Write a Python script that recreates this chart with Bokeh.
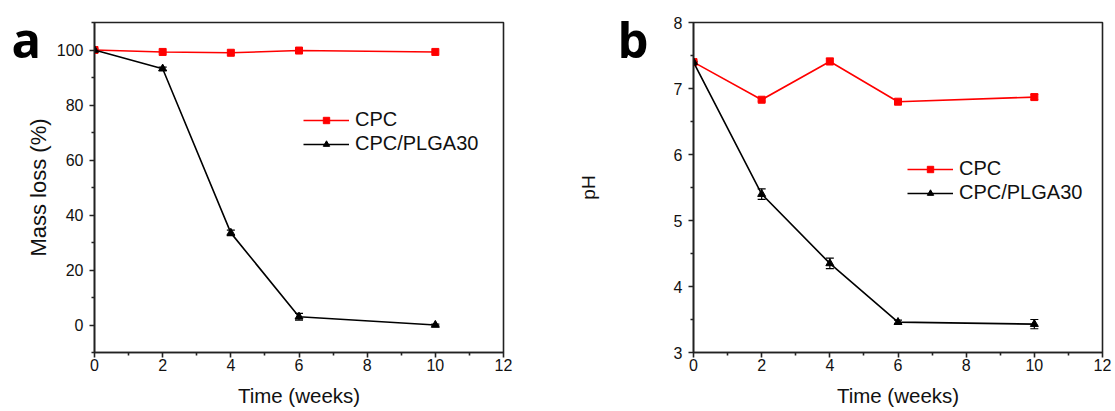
from bokeh.plotting import figure
from bokeh.layouts import row
from bokeh.models import (ColumnDataSource, FixedTicker, Legend, LegendItem,
                          Whisker, TeeHead)
from bokeh.embed import file_html
from bokeh.resources import INLINE

# ---------------- data ----------------
weeks = [0, 2, 4, 6, 10]

# panel a: mass loss (%)
mass_cpc = [100.0, 99.3, 99.0, 99.8, 99.3]
mass_cpc_err = [0.3, 0.3, 0.3, 0.3, 0.3]
mass_plga = [100.0, 93.2, 33.5, 3.0, 0.0]
mass_plga_err = [0.3, 0.6, 1.0, 1.2, 0.3]

# panel b: pH
ph_cpc = [7.40, 6.83, 7.41, 6.80, 6.87]
ph_cpc_err = [0.01, 0.02, 0.05, 0.02, 0.04]
ph_plga = [7.40, 5.40, 4.35, 3.46, 3.43]
ph_plga_err = [0.01, 0.08, 0.08, 0.03, 0.07]

x_ticks = [0, 2, 4, 6, 8, 10, 12]
x_minor = [1, 3, 5, 7, 9, 11]
a_ticks = [0, 20, 40, 60, 80, 100]
a_minor = [-10, 10, 30, 50, 70, 90, 110]
b_ticks = [3, 4, 5, 6, 7, 8]
b_minor = [3.5, 4.5, 5.5, 6.5, 7.5]

FONT = "Liberation Sans"
RED = "#ff0000"
BLACK = "#000000"


def style(p, yticks, yminor, ylabel, ylabel_size, ylabel_standoff):
    p.outline_line_color = "#222222"
    p.outline_line_width = 1.6
    p.xgrid.visible = False
    p.ygrid.visible = False
    p.xaxis.ticker = FixedTicker(ticks=x_ticks, minor_ticks=x_minor)
    p.yaxis.ticker = FixedTicker(ticks=yticks, minor_ticks=yminor)
    for ax in (p.xaxis, p.yaxis):
        ax.axis_line_color = "#222222"
        ax.axis_line_width = 1.6
        ax.major_tick_line_color = "#222222"
        ax.major_tick_line_width = 1.6
        ax.minor_tick_line_color = "#222222"
        ax.minor_tick_line_width = 1.6
        ax.major_tick_out = 5
        ax.major_tick_in = 0
        ax.minor_tick_out = 3
        ax.minor_tick_in = 0
        ax.major_label_text_font = FONT
        ax.major_label_text_font_size = "16px"
        ax.major_label_text_color = "#111111"
        ax.axis_label_text_font = FONT
        ax.axis_label_text_font_style = "normal"
        ax.axis_label_text_color = "#111111"
    p.xaxis.axis_label = "Time (weeks)"
    p.xaxis.axis_label_text_font_size = "20.5px"
    p.xaxis.major_label_standoff = 1
    p.xaxis.axis_label_standoff = 10
    p.yaxis.axis_label = ylabel
    p.yaxis.axis_label_text_font_size = ylabel_size
    p.yaxis.major_label_standoff = 6
    p.yaxis.axis_label_standoff = ylabel_standoff


def panel_letter(p, letter, offset, standoff):
    t = p.title
    t.text = letter
    t.align = "left"
    t.vertical_align = "bottom"
    t.offset = offset
    t.standoff = standoff
    t.text_font = "Open Sans"
    t.text_font_style = "bold"
    t.text_font_size = "49px"
    t.text_color = BLACK


def add_series(p, y1, e1, y2, e2, head_a, head_b):
    s1 = ColumnDataSource(dict(x=weeks, y=y1,
                               lo=[v - e for v, e in zip(y1, e1)],
                               hi=[v + e for v, e in zip(y1, e1)]))
    s2 = ColumnDataSource(dict(x=weeks, y=y2,
                               lo=[v - e for v, e in zip(y2, e2)],
                               hi=[v + e for v, e in zip(y2, e2)]))
    w1 = Whisker(source=s1, base="x", lower="lo", upper="hi",
                 line_color="#ff6666", line_width=1.2,
                 upper_head=TeeHead(size=head_a, line_color="#ff6666", line_width=1.2),
                 lower_head=TeeHead(size=head_a, line_color="#ff6666", line_width=1.2))
    w2 = Whisker(source=s2, base="x", lower="lo", upper="hi",
                 line_color=BLACK, line_width=1.2,
                 upper_head=TeeHead(size=head_b, line_color=BLACK, line_width=1.2),
                 lower_head=TeeHead(size=head_b, line_color=BLACK, line_width=1.2))
    p.add_layout(w1)
    p.add_layout(w2)
    l1 = p.line("x", "y", source=s1, line_color=RED, line_width=1.6)
    m1 = p.scatter("x", "y", source=s1, marker="square", size=7,
                   fill_color=RED, line_color=RED)
    l2 = p.line("x", "y", source=s2, line_color=BLACK, line_width=1.6)
    m2 = p.scatter("x", "y", source=s2, marker="triangle", size=8,
                   fill_color=BLACK, line_color=BLACK)
    return (l1, m1), (l2, m2)


def add_legend(p, r1, r2, loc):
    leg = Legend(items=[LegendItem(label="CPC", renderers=list(r1)),
                        LegendItem(label="CPC/PLGA30", renderers=list(r2))],
                 location=loc, orientation="vertical")
    leg.background_fill_alpha = 0
    leg.border_line_color = None
    leg.padding = 0
    leg.margin = 0
    leg.spacing = 1
    leg.glyph_width = 46
    leg.glyph_height = 16
    leg.label_height = 20
    leg.label_standoff = 6
    leg.label_text_font = FONT
    leg.label_text_font_size = "20px"
    leg.label_text_color = "#111111"
    p.add_layout(leg, "center")


# ---------------- panel a ----------------
pa = figure(width=563, height=411, x_range=(0, 12), y_range=(-10, 110),
            output_backend="svg", toolbar_location=None,
            min_border_left=94, min_border_right=60,
            min_border_top=22, min_border_bottom=59)
style(pa, a_ticks, a_minor, "Mass loss (%)", "22px", 3)
ra1, ra2 = add_series(pa, mass_cpc, mass_cpc_err, mass_plga, mass_plga_err, 6, 8)
add_legend(pa, ra1, ra2, (209, 197))
panel_letter(pa, "a", -83, -99)

# ---------------- panel b ----------------
pb = figure(width=550, height=411, x_range=(0, 12), y_range=(3, 8),
            output_backend="svg", toolbar_location=None,
            min_border_left=130, min_border_right=11,
            min_border_top=22, min_border_bottom=59)
style(pb, b_ticks, b_minor, "pH", "19px", 72)
rb1, rb2 = add_series(pb, ph_cpc, ph_cpc_err, ph_plga, ph_plga_err, 8, 8)
add_legend(pb, rb1, rb2, (214, 148))
panel_letter(pb, "b", -76, -99)

layout = row(pa, pb)
open("out.html", "w").write(file_html(layout, INLINE))
